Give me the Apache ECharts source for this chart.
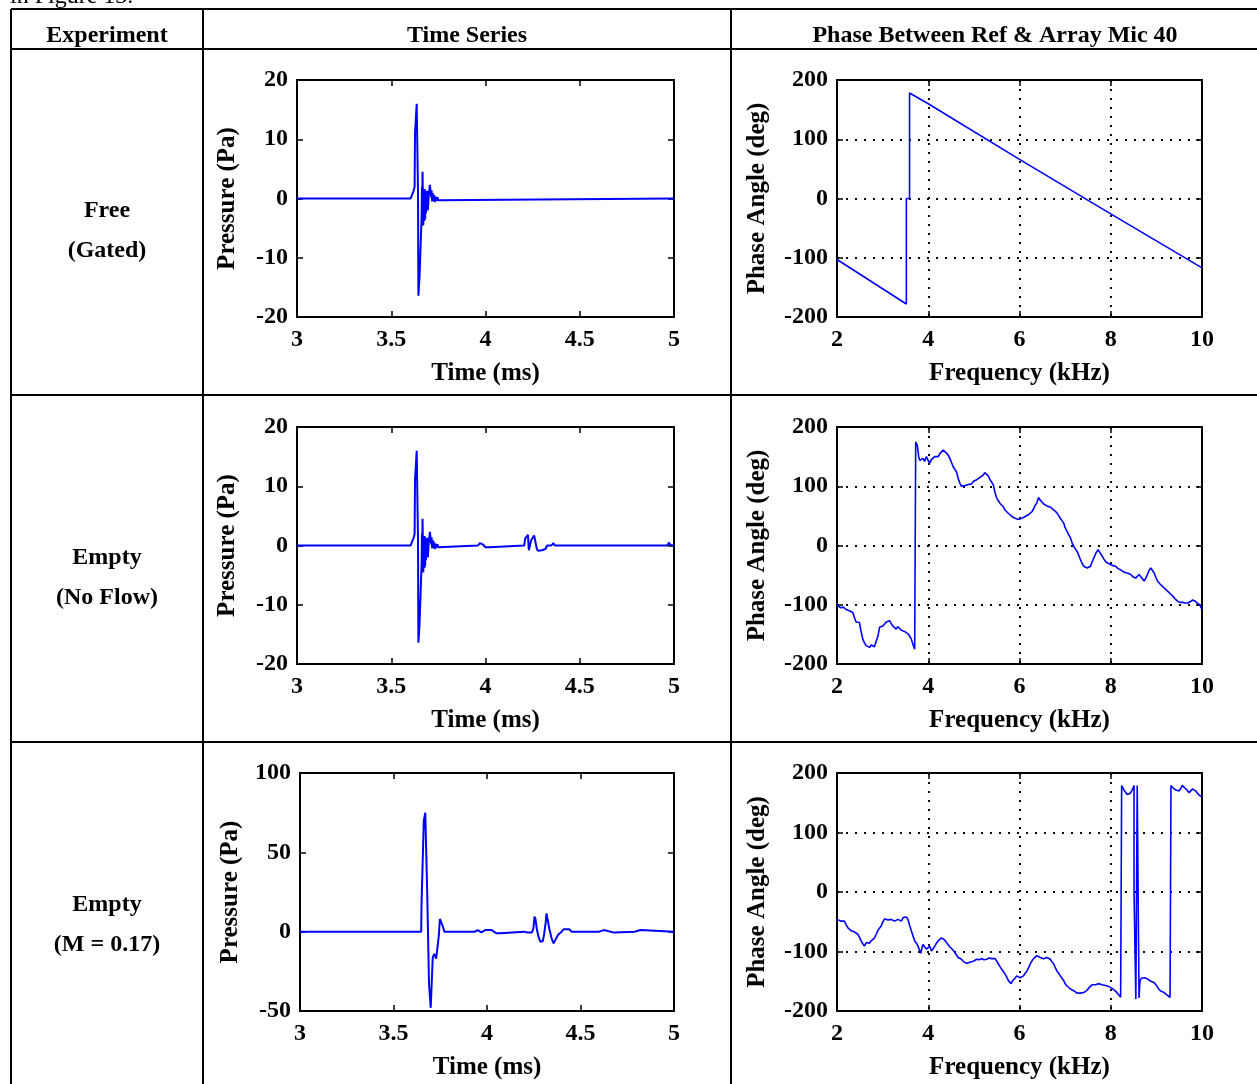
<!DOCTYPE html>
<html><head><meta charset="utf-8">
<script src="https://cdn.jsdelivr.net/npm/echarts@6/dist/echarts.min.js"></script>
<style>html,body{margin:0;padding:0;background:#fff;overflow:hidden}#c{width:1257px;height:1084px}</style>
</head><body><div id="c"></div>
<script>
// ---------- text ----------
const captionText = 'in Figure 13.';
const columnHeaders = ['Experiment', 'Time Series', 'Phase Between Ref & Array Mic 40'];
const rowLabels = [['Free', '(Gated)'], ['Empty', '(No Flow)'], ['Empty', '(M = 0.17)']];
const timeAxisName = 'Time (ms)';
const pressureAxisName = 'Pressure (Pa)';
const freqAxisName = 'Frequency (kHz)';
const phaseAxisName = 'Phase Angle (deg)';

// ---------- axis ranges ----------
const timeRange = [3, 5, 0.5];
const freqRange = [2, 10, 2];
const pressureRangeSmall = [-20, 20, 10];
const pressureRangeLarge = [-50, 100, 50];
const phaseRange = [-200, 200, 100];

// ---------- data: [time ms, pressure Pa] ----------
const freeTimeSeries = [
[3.000,0],[3.603,0],[3.610,0.6],[3.618,1.2],[3.624,2],[3.626,11],[3.633,11.2],[3.635,16],[3.640,16],[3.642,1],
[3.644,-16.4],[3.648,-16.4],[3.650,-13.3],[3.660,-13.3],[3.661,-3],[3.663,2],[3.664,-4.6],[3.666,4.5],[3.669,4.5],
[3.670,-4.5],[3.673,-4.6],[3.674,1.5],[3.676,-3.8],[3.678,1.6],[3.680,-3.5],[3.682,1.2],[3.684,-2.5],[3.686,0.2],
[3.688,-1.2],[3.690,1.3],[3.692,0.6],[3.694,-2],[3.697,-1.8],[3.699,0.5],[3.703,0.6],[3.705,2.3],[3.710,2.2],
[3.712,0.2],[3.714,1.4],[3.717,-0.5],[3.720,0.9],[3.723,-0.4],[3.727,0.6],[3.731,-0.6],[3.735,0.3],[3.740,-0.4],
[3.745,0.2],[3.750,-0.3],[3.755,0],[5.000,0]
];
const noFlowTimeSeries = [
[3.000,0],[3.603,0],[3.610,0.6],[3.618,1.2],[3.624,2],[3.626,11],[3.633,11.2],[3.635,16],[3.640,16],[3.642,1],
[3.644,-16.4],[3.648,-16.4],[3.650,-13.3],[3.660,-13.3],[3.661,-3],[3.663,2],[3.664,-4.6],[3.666,4.5],[3.669,4.5],
[3.670,-4.5],[3.673,-4.6],[3.674,1.5],[3.676,-3.8],[3.678,1.6],[3.680,-3.5],[3.682,1.2],[3.684,-2.5],[3.686,0.2],
[3.688,-1.2],[3.690,1.3],[3.692,0.6],[3.694,-2],[3.697,-1.8],[3.699,0.5],[3.703,0.6],[3.705,2.3],[3.710,2.2],
[3.712,0.2],[3.714,1.4],[3.717,-0.5],[3.720,0.9],[3.723,-0.4],[3.727,0.6],[3.731,-0.6],[3.735,0.3],[3.740,-0.4],
[3.745,0.2],[3.750,-0.3],[3.755,0],
[3.960,0],[3.970,0.4],[3.985,0.2],[4.000,-0.3],[4.010,-0.6],[4.020,-0.3],[4.030,0],
[4.205,0],[4.211,1.2],[4.218,1.5],[4.225,1.8],[4.230,-0.8],[4.236,-1.1],[4.242,0.9],[4.250,1.2],[4.258,1.7],
[4.265,1.6],[4.272,-0.5],[4.278,-0.9],[4.300,-0.8],[4.318,-0.6],[4.327,0],[4.350,0],[4.360,0.4],[4.368,0],
[4.965,0],[4.972,0.5],[4.982,0.1],[4.990,-0.2],[5.000,0]
];
const flowTimeSeries = [
[3.000,0],[3.648,0],[3.650,18],[3.660,18],[3.662,70],[3.668,70],[3.670,75],[3.678,75],[3.680,26],[3.688,26],
[3.690,-33],[3.697,-33],[3.699,-48],[3.708,-48],[3.710,-16],[3.718,-14],[3.726,-14],[3.728,-17],[3.738,-17],
[3.742,-3],[3.748,8],[3.755,8],[3.758,5],[3.765,3],[3.772,0],[3.840,0],[3.845,1],[3.852,0],
[3.935,0],[3.940,1],[3.950,1],[3.955,0],[3.970,-0.5],[3.980,0],[3.990,1],[4.025,1],[4.030,0],[4.050,-1],[4.070,-1],
[4.075,0],[4.200,0],[4.215,-0.6],[4.240,-0.6],[4.248,2],[4.254,9.5],[4.259,8],[4.266,2],[4.275,-3],[4.285,-6.3],
[4.298,-6],[4.305,-2],[4.314,6],[4.318,11.5],[4.326,11],[4.333,2],[4.345,-4],[4.356,-7.4],[4.364,-6.5],
[4.380,-2],[4.399,0],[4.410,1.5],[4.440,1.5],[4.453,0],[4.600,0],[4.605,1],[4.625,1],[4.630,0],[4.680,-0.6],
[4.690,0],[4.790,0],[4.795,1],[4.820,1],[4.825,0],[5.000,0]
];

// ---------- data: [frequency kHz, phase deg] ----------
const freePhase = [
[2.00,-103],[3.52,-178],[3.52,0],[3.59,0],[3.59,178],[4.00,160],[6.00,66],[8.00,-26],[10.00,-117]
];
const noFlowPhase = [
[2.00,-99],[2.04,-103],[2.088,-105],[2.14,-104],[2.198,-108],[2.272,-110],[2.30,-107],[2.345,-113],[2.38,-121],
[2.418,-129],[2.45,-127],[2.492,-130],[2.53,-146],[2.565,-158],[2.60,-164],[2.639,-169],[2.68,-171],[2.712,-172],
[2.75,-168],[2.785,-166],[2.82,-171],[2.859,-169],[2.90,-152],[2.932,-138],[2.97,-141],[3.006,-136],[3.04,-139],
[3.079,-129],[3.11,-132],[3.152,-127],[3.19,-132],[3.226,-136],[3.26,-138],[3.299,-141],[3.33,-137],[3.372,-138],
[3.41,-143],[3.446,-141],[3.48,-145],[3.519,-147],[3.57,-150],[3.629,-158],[3.66,-166],[3.703,-175],[3.725,-176],
[3.725,175],[3.745,172],[3.761,169],[3.79,150],[3.813,144],[3.85,146],[3.886,147],[3.92,142],[3.960,150],
[4.00,143],[4.033,139],[4.07,145],[4.106,147],[4.14,150],[4.180,152],[4.22,150],[4.253,155],[4.29,157],[4.327,161],
[4.36,159],[4.400,156],[4.44,152],[4.473,147],[4.51,140],[4.547,133],[4.58,129],[4.620,124],[4.66,112],[4.694,105],
[4.73,100],[4.767,98],[4.80,101],[4.840,100],[4.88,103],[4.914,105],[4.95,104],[4.987,108],[5.02,107],[5.061,111],
[5.10,113],[5.134,115],[5.17,117],[5.207,119],[5.24,123],[5.281,124],[5.32,117],[5.354,111],[5.39,107],[5.428,102],
[5.46,90],[5.501,80],[5.54,75],[5.574,71],[5.61,68],[5.648,65],[5.68,60],[5.721,57],[5.76,54],[5.794,52],
[5.85,48],[5.905,46],[5.94,45],[5.978,44],[6.01,43],[6.051,46],[6.09,47],[6.125,49],[6.16,50],[6.198,52],
[6.235,55],[6.272,57],[6.31,62],[6.345,68],[6.38,72],[6.418,81],[6.45,77],[6.492,74],[6.53,70],[6.565,68],
[6.62,66],[6.675,65],[6.71,62],[6.749,60],[6.785,58],[6.822,55],[6.86,50],[6.895,46],[6.93,42],[6.969,38],
[7.00,30],[7.042,24],[7.08,18],[7.116,13],[7.15,5],[7.189,-1],[7.225,-6],[7.262,-10],[7.30,-17],[7.336,-24],
[7.37,-30],[7.409,-35],[7.445,-38],[7.483,-38],[7.52,-37],[7.556,-35],[7.59,-28],[7.629,-21],[7.68,-12],[7.725,-7],
[7.77,-13],[7.813,-18],[7.85,-23],[7.886,-27],[7.94,-30],[7.996,-32],[8.05,-34],[8.106,-35],[8.16,-39],[8.217,-41],
[8.27,-44],[8.327,-46],[8.38,-47],[8.437,-49],[8.49,-53],[8.547,-55],[8.58,-52],[8.620,-49],[8.68,-55],[8.730,-60],
[8.77,-55],[8.804,-49],[8.84,-42],[8.877,-38],[8.91,-40],[8.950,-46],[8.99,-54],[9.024,-60],[9.08,-65],[9.134,-69],
[9.19,-73],[9.244,-77],[9.30,-81],[9.354,-85],[9.41,-90],[9.464,-94],[9.52,-96],[9.574,-96],[9.63,-97],[9.684,-97],
[9.74,-95],[9.794,-92],[9.85,-94],[9.905,-98],[9.95,-100],[10.00,-108]
];
const flowPhase = [
[2.00,-46],[2.04,-48],[2.088,-49],[2.12,-52],[2.161,-49],[2.20,-55],[2.235,-60],[2.27,-63],[2.308,-65],[2.345,-66],
[2.382,-67],[2.42,-69],[2.455,-71],[2.49,-76],[2.528,-82],[2.565,-87],[2.602,-91],[2.64,-85],[2.675,-82],[2.71,-86],
[2.749,-82],[2.785,-80],[2.822,-77],[2.86,-71],[2.895,-65],[2.93,-61],[2.969,-57],[3.00,-51],[3.042,-45],[3.08,-48],
[3.116,-47],[3.15,-44],[3.189,-46],[3.225,-45],[3.262,-49],[3.30,-47],[3.336,-46],[3.37,-44],[3.409,-49],[3.45,-43],
[3.483,-40],[3.52,-42],[3.556,-46],[3.59,-56],[3.629,-65],[3.67,-75],[3.703,-82],[3.74,-86],[3.776,-91],[3.80,-96],
[3.835,-103],[3.86,-95],[3.886,-88],[3.92,-92],[3.960,-96],[4.00,-93],[4.033,-91],[4.07,-99],[4.11,-95],[4.143,-91],
[4.18,-86],[4.217,-82],[4.25,-79],[4.290,-77],[4.33,-79],[4.363,-81],[4.40,-85],[4.437,-88],[4.47,-92],[4.510,-95],
[4.55,-98],[4.583,-102],[4.62,-106],[4.657,-110],[4.69,-112],[4.730,-113],[4.77,-117],[4.804,-119],[4.84,-120],
[4.877,-121],[4.91,-118],[4.950,-119],[5.00,-116],[5.061,-113],[5.11,-114],[5.171,-112],[5.22,-114],[5.281,-113],
[5.33,-111],[5.391,-112],[5.43,-110],[5.464,-112],[5.50,-116],[5.538,-121],[5.57,-125],[5.611,-130],[5.65,-134],
[5.684,-138],[5.72,-143],[5.758,-149],[5.79,-152],[5.817,-154],[5.84,-150],[5.868,-147],[5.90,-145],[5.941,-141],
[5.98,-142],[6.015,-144],[6.05,-143],[6.088,-141],[6.12,-137],[6.161,-133],[6.20,-127],[6.235,-121],[6.27,-116],
[6.308,-112],[6.345,-109],[6.382,-107],[6.42,-108],[6.455,-110],[6.49,-111],[6.528,-112],[6.565,-110],[6.602,-110],
[6.64,-111],[6.675,-113],[6.71,-117],[6.749,-121],[6.785,-127],[6.822,-133],[6.86,-137],[6.895,-141],[6.93,-145],
[6.969,-149],[7.00,-154],[7.042,-158],[7.08,-160],[7.116,-163],[7.15,-165],[7.189,-166],[7.225,-168],[7.262,-170],
[7.30,-171],[7.336,-170],[7.37,-169],[7.409,-169],[7.445,-167],[7.483,-165],[7.52,-161],[7.556,-158],[7.59,-156],
[7.629,-155],[7.665,-156],[7.703,-155],[7.74,-154],[7.776,-157],[7.81,-156],[7.850,-155],[7.885,-157],[7.923,-158],
[7.96,-159],[7.996,-161],[8.03,-162],[8.070,-164],[8.11,-167],[8.143,-169],[8.18,-173],[8.217,-177],[8.239,-178],
[8.239,179],[8.268,176],[8.30,170],[8.327,167],[8.36,164],[8.400,162],[8.43,166],[8.459,170],[8.49,175],[8.510,179],
[8.510,0],[8.550,0],[8.550,-180],[8.580,-180],[8.580,179],[8.620,179],[8.620,-178],[8.640,-150],[8.67,-145],
[8.700,-142],[8.75,-144],[8.800,-146],[8.84,-148],[8.877,-150],[8.91,-151],[8.950,-152],[9.00,-157],[9.060,-164],
[9.11,-167],[9.170,-169],[9.23,-173],[9.300,-177],[9.320,-178],[9.320,179],[9.35,177],[9.390,173],[9.44,171],
[9.500,170],[9.535,174],[9.570,179],[9.61,176],[9.650,173],[9.685,170],[9.720,167],[9.755,170],[9.790,173],
[9.825,172],[9.860,170],[9.90,166],[9.950,162],[10.00,160]
];

// ---------- layout ----------
const FONT = '"Liberation Serif", "Times New Roman", serif';
const plots = [
  {box:[297, 80, 377, 237], x:timeRange, y:pressureRangeSmall, data:freeTimeSeries, kind:'ts'},
  {box:[837, 80, 365, 237], x:freqRange, y:phaseRange, data:freePhase, kind:'ph'},
  {box:[297, 427, 377, 237], x:timeRange, y:pressureRangeSmall, data:noFlowTimeSeries, kind:'ts'},
  {box:[837, 427, 365, 237], x:freqRange, y:phaseRange, data:noFlowPhase, kind:'ph'},
  {box:[300, 773, 374, 238], x:timeRange, y:pressureRangeLarge, data:flowTimeSeries, kind:'ts'},
  {box:[837, 773, 365, 238], x:freqRange, y:phaseRange, data:flowPhase, kind:'ph'}
];

const grid = [], xAxis = [], yAxis = [], series = [];
const tickStyle = {inside:true, length:6, lineStyle:{color:'#000', width:1.5}};
const labelStyle = {color:'#000', fontFamily:FONT, fontWeight:'bold', fontSize:24};
const nameStyle = {color:'#000', fontFamily:FONT, fontWeight:'bold', fontSize:25};
const dotted = {show:true, lineStyle:{color:'#000', width:2, type:[2,7]}};
const noLine = {show:false, onZero:false};

plots.forEach((p, i) => {
  grid.push({left:p.box[0], top:p.box[1], width:p.box[2], height:p.box[3], show:true,
    borderColor:'#000', borderWidth:2, backgroundColor:'rgba(0,0,0,0)', containLabel:false});
  const isPh = p.kind === 'ph';
  xAxis.push({gridIndex:i, type:'value', position:'bottom', min:p.x[0], max:p.x[1], interval:p.x[2],
    axisLine:noLine, axisTick:tickStyle, axisLabel:Object.assign({margin:11}, labelStyle),
    splitLine:isPh ? dotted : {show:false},
    name:isPh ? freqAxisName : timeAxisName, nameLocation:'middle', nameGap:44, nameTextStyle:nameStyle});
  xAxis.push({gridIndex:i, type:'value', position:'top', min:p.x[0], max:p.x[1], interval:p.x[2],
    axisLine:noLine, axisTick:tickStyle, axisLabel:{show:false}, splitLine:{show:false}});
  yAxis.push({gridIndex:i, type:'value', position:'left', min:p.y[0], max:p.y[1], interval:p.y[2],
    axisLine:noLine, axisTick:tickStyle, axisLabel:Object.assign({margin:9}, labelStyle),
    splitLine:isPh ? dotted : {show:false},
    name:isPh ? phaseAxisName : pressureAxisName, nameLocation:'middle', nameGap:isPh ? 67 : 57,
    nameTextStyle:nameStyle});
  yAxis.push({gridIndex:i, type:'value', position:'right', min:p.y[0], max:p.y[1], interval:p.y[2],
    axisLine:noLine, axisTick:tickStyle, axisLabel:{show:false}, splitLine:{show:false}});
  series.push({type:'line', xAxisIndex:2*i, yAxisIndex:2*i, data:p.data, showSymbol:false, symbol:'none',
    lineStyle:{color:'#0000ff', width:isPh ? 1.6 : 2}, animation:false, clip:true, z:5});
});

// table rules and texts
const graphic = [];
const L = (x1, y1, x2, y2) => graphic.push({type:'line', shape:{x1, y1, x2, y2},
  style:{stroke:'#000', lineWidth:2}, z:10});
[9, 49, 395, 742].forEach(y => L(11, y, 1257, y));
[11, 203, 731].forEach(x => L(x, 9, x, 1084));
const T = (text, x, y, size, align) => graphic.push({type:'text', x, y, z:10, style:{text,
  font:'bold ' + size + 'px ' + FONT, fill:'#000', textAlign:align || 'center', textVerticalAlign:'middle',
  align:align || 'center', verticalAlign:'middle'}});
graphic.push({type:'text', x:10, y:-15, z:10, style:{text:captionText, font:'24px ' + FONT, fill:'#000',
  textAlign:'left', textVerticalAlign:'top', align:'left', verticalAlign:'top'}});
T(columnHeaders[0], 107, 36, 24);
T(columnHeaders[1], 467, 36, 24);
T(columnHeaders[2], 995, 36, 24);
const rowCenters = [231, 578, 925];
rowLabels.forEach((r, i) => { T(r[0], 107, rowCenters[i] - 20, 24); T(r[1], 107, rowCenters[i] + 20, 24); });

const chart = echarts.init(document.getElementById('c'), null, {renderer:'canvas'});
chart.setOption({animation:false, backgroundColor:'#fff', grid, xAxis, yAxis, series, graphic});
</script></body></html>
